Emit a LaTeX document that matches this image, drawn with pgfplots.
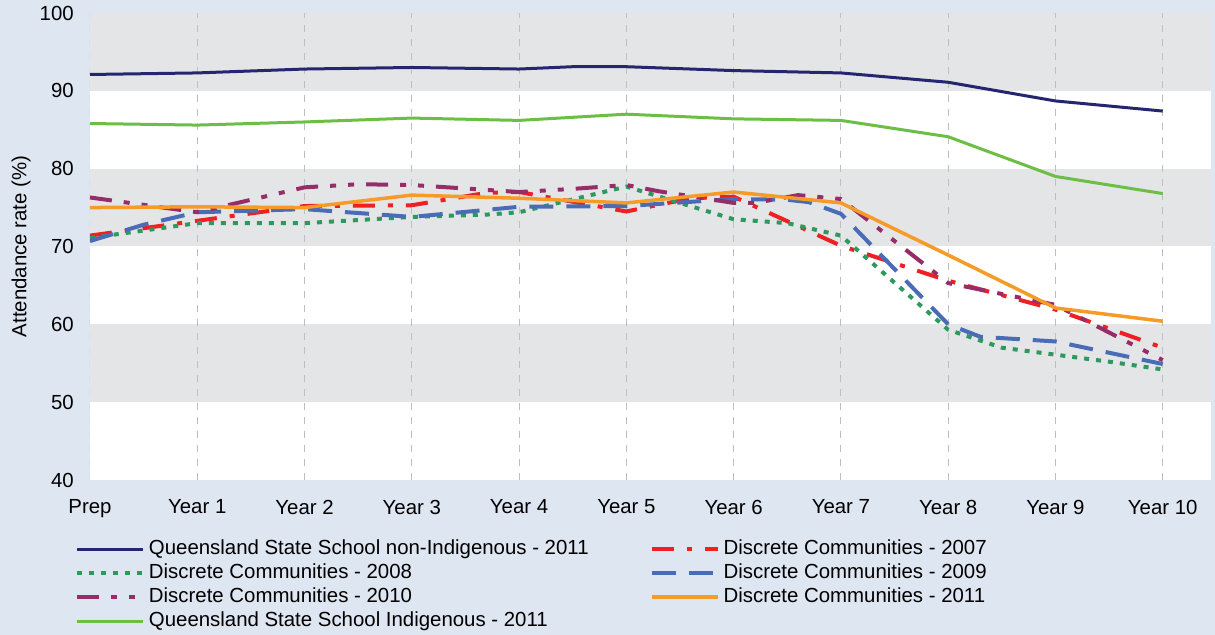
\documentclass[border=0pt]{standalone}
\usepackage{pgfplots}
\pgfplotsset{compat=1.18}
\usepackage{fontspec}
\setmainfont{Liberation Sans}

\definecolor{bgblue}{RGB}{222,230,242}
\definecolor{band}{RGB}{228,229,231}
\definecolor{gridgray}{RGB}{190,190,190}
\definecolor{qnavy}{RGB}{38,38,112}
\definecolor{qgreen}{RGB}{108,190,69}
\definecolor{dcA}{RGB}{237,32,36}
\definecolor{dcB}{RGB}{46,152,94}
\definecolor{dcC}{RGB}{74,108,182}
\definecolor{dcD}{RGB}{150,45,105}
\definecolor{dcE}{RGB}{247,155,40}

\begin{document}
\begin{tikzpicture}
\fill[bgblue] (-45pt,-77.5pt) rectangle (562.5pt,240pt);
\begin{axis}[
    scale only axis, width=560.5pt, height=233.5pt,
    xmin=0, xmax=10.45, ymin=40, ymax=100,
    xtick={0,...,10},
    xticklabels={Prep, Year 1, Year 2, Year 3, Year 4, Year 5, Year 6, Year 7, Year 8, Year 9, Year 10},
    ytick={40,50,...,100},
    major tick length=0pt,
    axis line style={draw=none},
    axis background/.style={fill=white},
    tick label style={font=\fontsize{10.2}{12}\selectfont},
    /pgf/number format/assume math mode=true,
    xticklabel style={yshift=-6.4pt},
    yticklabel style={xshift=-4.6pt},
    ylabel={Attendance rate (\%)},
    ylabel style={at={(axis description cs:-0.0615,0.5)}, anchor=center, font=\fontsize{10.2}{12}\selectfont},
    legend columns=2, legend cell align=left,
    legend image code/.code={\draw (0pt,0pt) -- (33pt,0pt);},
    legend style={
        at={(axis description cs:-0.0134,-0.128)}, anchor=north west,
        draw=none, fill=none, inner sep=0pt, outer sep=0pt,
        font=\fontsize{10.2}{12}\selectfont,
        nodes={inner xsep=2pt, inner ysep=0pt, text height=7.4pt, text depth=2pt},
        row sep=2.6pt,
        /tikz/every even column/.append style={column sep=28.5pt},
    },
    every axis plot/.append style={line cap=butt, line join=round},
]
% grey bands and dashed verticals
\fill[band] (axis cs:0,50) rectangle (axis cs:10.45,60);
\fill[band] (axis cs:0,70) rectangle (axis cs:10.45,80);
\fill[band] (axis cs:0,90) rectangle (axis cs:10.45,100);
\pgfplotsinvokeforeach{0,...,10}{
  \draw[gridgray, line width=0.5pt, dash pattern=on 3.5pt off 3.5pt] (axis cs:#1,40) -- (axis cs:#1,100);
}

\addplot[qnavy, line width=1.5pt] coordinates {
  (0,92.1) (1,92.3) (2,92.8) (3,93.0) (4,92.8) (4.5,93.1) (5,93.1) (6,92.6) (7,92.3) (8,91.1) (9,88.7) (10,87.4)
};
\addlegendentry{Queensland State School non-Indigenous - 2011}

\addplot[dcA, line width=2pt, dash pattern=on 11pt off 6.5pt on 2.5pt off 6.5pt] coordinates {
  (0,71.4) (1,73.3) (2,75.2) (3,75.3) (3.7,76.9) (4,77.0) (5,74.5) (5.6,76.2) (6,76.4) (7,70.1) (8,65.6) (9,61.9) (10,57.0)
};
\addlegendentry{Discrete Communities - 2007}

\addplot[dcB, line width=2pt, dash pattern=on 2.5pt off 3.5pt] coordinates {
  (0,71.1) (1,73.0) (2,73.0) (3,73.8) (3.7,74.1) (4,74.4) (5,77.7) (6,73.5) (6.5,73.0) (7,71.4) (8,59.3) (8.5,57.0) (9,56.1) (9.5,55.2) (10,54.2)
};
\addlegendentry{Discrete Communities - 2008}

\addplot[dcC, line width=2pt, dash pattern=on 12pt off 6.5pt] coordinates {
  (0,70.7) (0.5,72.8) (1,74.4) (2,74.8) (3,73.8) (4,75.1) (5,75.2) (6,76.1) (6.5,76.0) (6.7,75.7) (7,74.2) (8,60.0) (8.3,58.4) (9,57.8) (10,54.9)
};
\addlegendentry{Discrete Communities - 2009}

\addplot[dcD, line width=2pt, dash pattern=on 11pt off 6pt on 3pt off 6pt on 3pt off 6pt] coordinates {
  (0,76.3) (1,74.4) (2,77.6) (2.5,78.0) (3,77.9) (4,77.0) (4.5,77.4) (5,77.9) (5.3,77.1) (6,75.6) (6.2,75.6) (6.6,76.6) (7,76.1) (8,65.3) (9,62.5) (10,55.4)
};
\addlegendentry{Discrete Communities - 2010}

\addplot[dcE, line width=1.75pt] coordinates {
  (0,75.0) (1,75.1) (2,75.0) (3,76.6) (4,76.2) (5,75.6) (6,77.0) (7,75.6) (8,68.9) (9,62.1) (10,60.4)
};
\addlegendentry{Discrete Communities - 2011}

\addplot[qgreen, line width=1.5pt] coordinates {
  (0,85.8) (1,85.6) (2,86.0) (3,86.5) (4,86.2) (5,87.0) (6,86.4) (7,86.2) (8,84.1) (9,79.0) (10,76.8)
};
\addlegendentry{Queensland State School Indigenous - 2011}
\end{axis}
\pgfresetboundingbox
\path[use as bounding box] (-45pt,-77.5pt) rectangle (562.5pt,240pt);
\end{tikzpicture}
\end{document}
